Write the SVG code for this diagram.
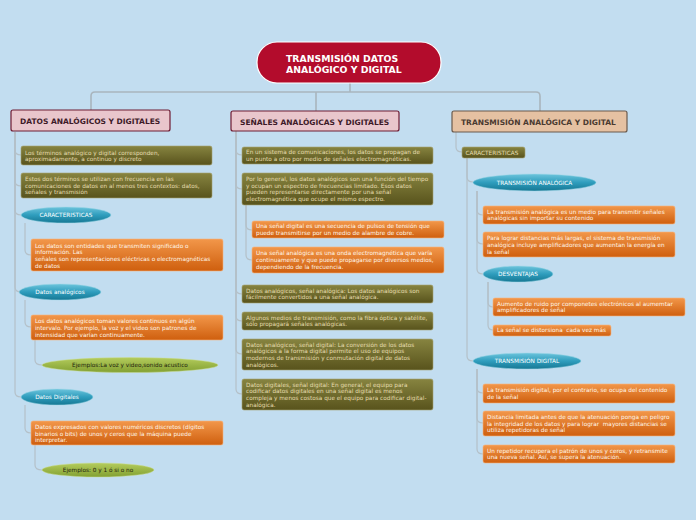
<svg xmlns="http://www.w3.org/2000/svg" width="696" height="520" viewBox="0 0 696 520">
<defs>
<linearGradient id="gOl" x1="0" y1="0" x2="0" y2="1"><stop offset="0" stop-color="#878440"/><stop offset="1" stop-color="#58531c"/></linearGradient>
<linearGradient id="gOr" x1="0" y1="0" x2="0" y2="1"><stop offset="0" stop-color="#f2974a"/><stop offset="1" stop-color="#cf5f0e"/></linearGradient>
<linearGradient id="gBl" x1="0" y1="0" x2="0" y2="1"><stop offset="0" stop-color="#6cc4dc"/><stop offset="0.5" stop-color="#2f9dbd"/><stop offset="1" stop-color="#167894"/></linearGradient>
<linearGradient id="gGr" x1="0" y1="0" x2="0" y2="1"><stop offset="0" stop-color="#b4cc5c"/><stop offset="1" stop-color="#82a032"/></linearGradient>
<style>
.ol{fill:url(#gOl);stroke:#a6a272;stroke-width:0.6}
.or{fill:url(#gOr);stroke:#f6b47c;stroke-width:0.6}
.bl{fill:url(#gBl);stroke:#9fd6e6;stroke-width:0.5}
.gr{fill:url(#gGr);stroke:#cadc94;stroke-width:0.5}
.t{font-family:"DejaVu Sans",Verdana,sans-serif;font-size:5.75px}
.to{fill:#e6ddb0}
.tr{fill:#fff6ea}
.tb{fill:#ffffff;text-anchor:middle}
.tg{fill:#22220c;text-anchor:middle}
.h{font-family:"DejaVu Sans",Verdana,sans-serif;font-size:7.5px;font-weight:bold}
.c{fill:none;stroke:#b4c0c8;stroke-width:1.2}
.cm{fill:none;stroke:#a9b5bd;stroke-width:1.6}
</style>
</defs>
<rect x="0" y="0" width="696" height="520" fill="#c2ddf0"/>

<g id="connectors">
<path class="cm" d="M350,83 V92 M95,92 H536 Q540,92 540,96 V111 M95,92 Q91,92 91,96 V110 M316,92 V111"/>
<path class="c" d="M15,132 V150 Q15,155 21,155"/>
<path class="c" d="M15,132 V181 Q15,186 21,186"/>
<path class="c" d="M15,132 V210 Q15,215 21,215"/>
<path class="c" d="M15,132 V287 Q15,292 21,292"/>
<path class="c" d="M15,132 V392 Q15,397 21,397"/>
<path class="c" d="M25,223 V250 Q25,255 31,255"/>
<path class="c" d="M25,300 V322 Q25,327 31,327"/>
<path class="c" d="M35,340 V360 Q35,365 42,365"/>
<path class="c" d="M25,405 V428 Q25,433 31,433"/>
<path class="c" d="M35,445 V465 Q35,470 42,470"/>
<path class="c" d="M236,131 V150 Q236,155 242,155"/>
<path class="c" d="M236,131 V184 Q236,189 242,189"/>
<path class="c" d="M236,131 V289 Q236,294 242,294"/>
<path class="c" d="M236,131 V316 Q236,321 242,321"/>
<path class="c" d="M236,131 V349 Q236,354 242,354"/>
<path class="c" d="M236,131 V389 Q236,394 242,394"/>
<path class="c" d="M246,205 V225 Q246,230 252,230"/>
<path class="c" d="M246,205 V255 Q246,260 252,260"/>
<path class="c" d="M456,132 V147 Q456,152 462,152"/>
<path class="c" d="M467,158 V177 Q467,182 473,182"/>
<path class="c" d="M467,158 V356 Q467,361 473,361"/>
<path class="c" d="M477,191 V210 Q477,215 483,215"/>
<path class="c" d="M477,191 V239 Q477,244 483,244"/>
<path class="c" d="M477,191 V269 Q477,274 483,274"/>
<path class="c" d="M488,282 V302 Q488,307 493,307"/>
<path class="c" d="M488,282 V325 Q488,330 493,330"/>
<path class="c" d="M477,369 V388 Q477,393 483,393"/>
<path class="c" d="M477,369 V418 Q477,423 483,423"/>
<path class="c" d="M477,369 V449 Q477,454 483,454"/>
</g>

<g id="title">
<rect x="257" y="42" width="184" height="41" rx="20" fill="#b30c2c" stroke="#ffffff" stroke-width="1.2"/>
<text font-family="DejaVu Sans,Verdana,sans-serif" font-size="9.3" font-weight="bold" fill="#ffffff"><tspan x="286" y="61.5">TRANSMISIÓN DATOS</tspan><tspan x="286" y="72.5">ANALÓGICO Y DIGITAL</tspan></text>
</g>

<g id="n_datos">
<rect x="11" y="110" width="159" height="21" rx="2" fill="#e9c6cc" stroke="#6e1c33" stroke-width="1.2"/>
<text class="h" x="20" y="124" fill="#3d1a28">DATOS ANALÓGICOS Y DIGITALES</text>
</g>
<g id="n_senales">
<rect x="231" y="111" width="168" height="20" rx="2" fill="#e9c6cc" stroke="#6e1c33" stroke-width="1.2"/>
<text class="h" x="240" y="124.5" fill="#3d1a28">SEÑALES ANALÓGICAS Y DIGITALES</text>
</g>
<g id="n_transmision">
<rect x="452" y="111" width="175" height="21" rx="2" fill="#e5c1a2" stroke="#6a5a4c" stroke-width="1.2"/>
<text class="h" x="461" y="124.5" fill="#4a3a30">TRANSMISIÓN ANALÓGICA Y DIGITAL</text>
</g>

<g id="l1"><rect class="ol" x="21" y="146" width="191" height="19" rx="2"/>
<text class="t to"><tspan x="25" y="154.5">Los términos analógico y digital corresponden,</tspan><tspan x="25" y="161.2">aproximadamente, a continuo y discreto</tspan></text></g>
<g id="l2"><rect class="ol" x="21" y="173" width="191" height="25" rx="2"/>
<text class="t to"><tspan x="25" y="181">Estos dos términos se utilizan con frecuencia en las</tspan><tspan x="25" y="187.7">comunicaciones de datos en al menos tres contextos: datos,</tspan><tspan x="25" y="194.4">señales y transmisión</tspan></text></g>
<g id="l3"><ellipse class="bl" cx="66" cy="215" rx="45" ry="8"/>
<text class="t tb" x="66" y="217">CARACTERISTICAS</text></g>
<g id="l4"><rect class="or" x="31" y="239" width="192" height="32" rx="2"/>
<text class="t tr"><tspan x="35" y="247.5">Los datos son entidades que transmiten significado o</tspan><tspan x="35" y="254.2">información. Las</tspan><tspan x="35" y="260.9">señales son representaciones eléctricas o electromagnéticas</tspan><tspan x="35" y="267.6">de datos</tspan></text></g>
<g id="l5"><ellipse class="bl" cx="60" cy="292" rx="41" ry="8"/>
<text class="t tb" x="60" y="294">Datos analógicos</text></g>
<g id="l6"><rect class="or" x="31" y="315" width="192" height="25" rx="2"/>
<text class="t tr"><tspan x="35" y="323.3">Los datos analógicos toman valores continuos en algún</tspan><tspan x="35" y="330">intervalo. Por ejemplo, la voz y el video son patrones de</tspan><tspan x="35" y="336.7">intensidad que varían continuamente.</tspan></text></g>
<g id="l7"><ellipse class="gr" cx="130" cy="365" rx="88" ry="7.5"/>
<text class="t tg" x="130" y="367">Ejemplos:La voz y video,sonido acustico</text></g>
<g id="l8"><ellipse class="bl" cx="57" cy="397" rx="36" ry="8"/>
<text class="t tb" x="57" y="399">Datos Digitales</text></g>
<g id="l9"><rect class="or" x="31" y="421" width="192" height="24" rx="2"/>
<text class="t tr"><tspan x="35" y="429">Datos expresados con valores numéricos discretos (dígitos</tspan><tspan x="35" y="435.7">binarios o bits) de unos y ceros que la máquina puede</tspan><tspan x="35" y="442.4">interpretar.</tspan></text></g>
<g id="l10"><ellipse class="gr" cx="98" cy="470" rx="56" ry="7"/>
<text class="t tg" x="98" y="472">Ejemplos: 0 y 1 ó si o no</text></g>

<g id="m1"><rect class="ol" x="242" y="147" width="191" height="17" rx="2"/>
<text class="t to"><tspan x="246" y="154.3">En un sistema de comunicaciones, los datos se propagan de</tspan><tspan x="246" y="161">un punto a otro por medio de señales electromagnéticas.</tspan></text></g>
<g id="m2"><rect class="ol" x="242" y="173" width="191" height="32" rx="2"/>
<text class="t to"><tspan x="246" y="181">Por lo general, los datos analógicos son una función del tiempo</tspan><tspan x="246" y="187.7">y ocupan un espectro de frecuencias limitado. Esos datos</tspan><tspan x="246" y="194.4">pueden representarse directamente por una señal</tspan><tspan x="246" y="201.1">electromagnética que ocupe el mismo espectro.</tspan></text></g>
<g id="m3"><rect class="or" x="252" y="221" width="192" height="17" rx="2"/>
<text class="t tr"><tspan x="256" y="228.3">Una señal digital es una secuencia de pulsos de tensión que</tspan><tspan x="256" y="235">puede transmitirse por un medio de alambre de cobre.</tspan></text></g>
<g id="m4"><rect class="or" x="252" y="247" width="192" height="26" rx="2"/>
<text class="t tr"><tspan x="256" y="255.3">Una señal analógica es una onda electromagnética que varía</tspan><tspan x="256" y="262">continuamente y que puede propagarse por diversos medios,</tspan><tspan x="256" y="268.7">dependiendo de la frecuencia.</tspan></text></g>
<g id="m5"><rect class="ol" x="242" y="285" width="191" height="18" rx="2"/>
<text class="t to"><tspan x="246" y="292.6">Datos analógicos, señal analógica: Los datos analógicos son</tspan><tspan x="246" y="299.3">fácilmente convertidos a una señal analógica.</tspan></text></g>
<g id="m6"><rect class="ol" x="242" y="312" width="191" height="18" rx="2"/>
<text class="t to"><tspan x="246" y="319.6">Algunos medios de transmisión, como la fibra óptica y satélite,</tspan><tspan x="246" y="326.3">sólo propagará señales analógicas.</tspan></text></g>
<g id="m7"><rect class="ol" x="242" y="339" width="191" height="31" rx="2"/>
<text class="t to"><tspan x="246" y="346.6">Datos analógicos, señal digital: La conversión de los datos</tspan><tspan x="246" y="353.3">analógicos a la forma digital permite el uso de equipos</tspan><tspan x="246" y="360">modernos de transmisión y conmutación digital de datos</tspan><tspan x="246" y="366.7">analógicos.</tspan></text></g>
<g id="m8"><rect class="ol" x="242" y="379" width="191" height="31" rx="2"/>
<text class="t to"><tspan x="246" y="386.6">Datos digitales, señal digital: En general, el equipo para</tspan><tspan x="246" y="393.3">codificar datos digitales en una señal digital es menos</tspan><tspan x="246" y="400">compleja y menos costosa que el equipo para codificar digital-</tspan><tspan x="246" y="406.7">analógica.</tspan></text></g>

<g id="r1"><rect class="ol" x="462" y="147" width="63" height="11" rx="2"/>
<text class="t to" x="465.5" y="154.5">CARACTERISTICAS</text></g>
<g id="r2"><ellipse class="bl" cx="534.5" cy="182.5" rx="61.5" ry="8.5"/>
<text class="t tb" x="534.5" y="184.5">TRANSMISIÓN ANALÓGICA</text></g>
<g id="r3"><rect class="or" x="483" y="206" width="192" height="18" rx="2"/>
<text class="t tr"><tspan x="487" y="213.6">La transmisión analógica es un medio para transmitir señales</tspan><tspan x="487" y="220.3">analógicas sin importar su contenido</tspan></text></g>
<g id="r4"><rect class="or" x="483" y="232" width="192" height="25" rx="2"/>
<text class="t tr"><tspan x="487" y="240.3">Para lograr distancias más largas, el sistema de transmisión</tspan><tspan x="487" y="247">analógica incluye amplificadores que aumentan la energía en</tspan><tspan x="487" y="253.7">la señal</tspan></text></g>
<g id="r5"><ellipse class="bl" cx="518" cy="274" rx="35" ry="8"/>
<text class="t tb" x="518" y="276">DESVENTAJAS</text></g>
<g id="r6"><rect class="or" x="493" y="298" width="192" height="18" rx="2"/>
<text class="t tr"><tspan x="497" y="305.6">Aumento de ruido por componetes electrónicos al aumemtar</tspan><tspan x="497" y="312.3">amplificadores de señal</tspan></text></g>
<g id="r7"><rect class="or" x="493" y="325" width="118" height="11" rx="2"/>
<text class="t tr" x="497" y="332.3" xml:space="preserve">La señal se distorsiona  cada vez más</text></g>
<g id="r8"><ellipse class="bl" cx="527" cy="361" rx="54" ry="8"/>
<text class="t tb" x="527" y="363">TRANSMISIÓN DIGITAL</text></g>
<g id="r9"><rect class="or" x="483" y="384" width="192" height="19" rx="2"/>
<text class="t tr"><tspan x="487" y="391.8">La transmisión digital, por el contrario, se ocupa del contenido</tspan><tspan x="487" y="398.5">de la señal</tspan></text></g>
<g id="r10"><rect class="or" x="483" y="411" width="192" height="25" rx="2"/>
<text class="t tr" xml:space="preserve"><tspan x="487" y="419">Distancia limitada antes de que la atenuación ponga en peligro</tspan><tspan x="487" y="425.7">la integridad de los datos y para lograr  mayores distancias se</tspan><tspan x="487" y="432.4">utiliza repetidoras de señal</tspan></text></g>
<g id="r11"><rect class="or" x="483" y="445" width="192" height="18" rx="2"/>
<text class="t tr"><tspan x="487" y="452.6">Un repetidor recupera el patrón de unos y ceros, y retransmite</tspan><tspan x="487" y="459.3">una nueva señal. Así, se supera la atenuación.</tspan></text></g>
</svg>
